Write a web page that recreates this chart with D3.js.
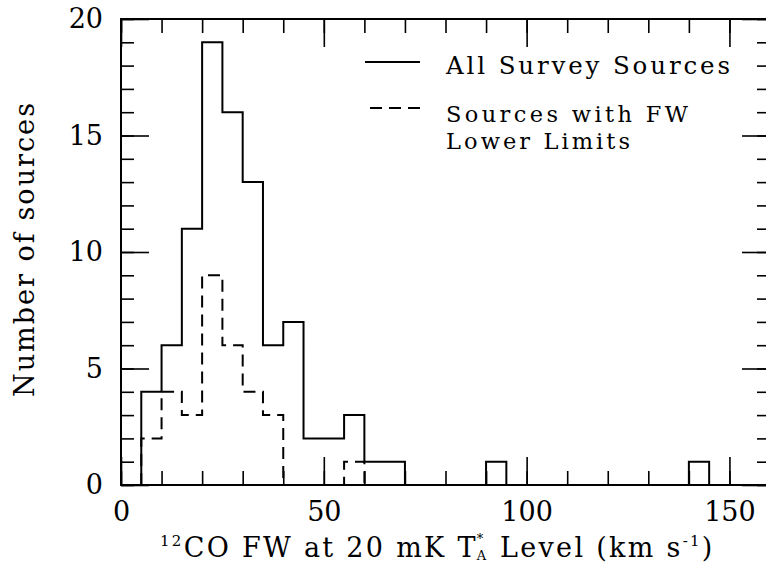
<!DOCTYPE html>
<html>
<head>
<meta charset="utf-8">
<script src="https://cdn.jsdelivr.net/npm/d3@7"></script>
<style>
  html, body { margin: 0; padding: 0; background: #fff; }
  svg { display: block; }
  text { font-family: "DejaVu Serif", serif; fill: #000; }
</style>
</head>
<body>
<svg id="chart" width="766" height="570"></svg>
<script>
// ---- data ----
const binStarts = [5,10,15,20,25,30,35,40,45,50,55,60,65,70,75,80,85,90,95,100,105,110,115,120,125,130,135,140];
const binWidth = 5;
const allSources =  [4,6,11,19,16,13,6,7,2,2,3,1,1,0,0,0,0,1,0,0,0,0,0,0,0,0,0,1];
const lowerLimits = [2,4,3,9,6,4,3,0,0,0,1,0,0,0,0,0,0,0,0,0,0,0,0,0,0,0,0,0];
const xMajorTicks = [0, 50, 100, 150];
const xMinorTicks = d3.range(0, 161, 10);
const yMajorTicks = [0, 5, 10, 15, 20];
const yMinorTicks = d3.range(0, 21, 1);
const legendLabels = ["All Survey Sources", "Sources with FW", "Lower Limits"];

// ---- layout ----
const svg = d3.select("#chart");
const x = d3.scaleLinear().domain([0, 160]).range([121, 770]);
const y = d3.scaleLinear().domain([0, 20]).range([485, 19]);
const fs = 27;

svg.append("rect").attr("width", 766).attr("height", 570).attr("fill", "#fff");

function styleAxis(g) {
  g.select(".domain").remove();
  g.selectAll("line").attr("stroke", "#000").attr("stroke-width", 1.6);
  g.selectAll("text").attr("font-size", fs).attr("font-family", "DejaVu Serif").attr("fill", "#000");
}

// minor ticks
svg.append("g").attr("transform", `translate(0,${y(0)})`)
  .call(d3.axisBottom(x).tickValues(xMinorTicks).tickSizeInner(-14).tickSizeOuter(0).tickFormat(""))
  .call(styleAxis);
svg.append("g").attr("transform", `translate(0,${y(20)})`)
  .call(d3.axisTop(x).tickValues(xMinorTicks).tickSizeInner(-14).tickSizeOuter(0).tickFormat(""))
  .call(styleAxis);
svg.append("g").attr("transform", `translate(${x(0)},0)`)
  .call(d3.axisLeft(y).tickValues(yMinorTicks).tickSizeInner(-13).tickSizeOuter(0).tickFormat(""))
  .call(styleAxis);
svg.append("g").attr("transform", `translate(${x(160)},0)`)
  .call(d3.axisRight(y).tickValues(yMinorTicks).tickSizeInner(-13).tickSizeOuter(0).tickFormat(""))
  .call(styleAxis);

// major ticks with labels
svg.append("g").attr("transform", `translate(0,${y(0)})`)
  .call(d3.axisBottom(x).tickValues(xMajorTicks).tickSizeInner(-28).tickSizeOuter(0).tickPadding(17).tickFormat(d3.format("d")))
  .call(styleAxis);
svg.append("g").attr("transform", `translate(0,${y(20)})`)
  .call(d3.axisTop(x).tickValues(xMajorTicks).tickSizeInner(-28).tickSizeOuter(0).tickFormat(""))
  .call(styleAxis);
svg.append("g").attr("transform", `translate(${x(0)},0)`)
  .call(d3.axisLeft(y).tickValues(yMajorTicks).tickSizeInner(-28).tickSizeOuter(0).tickPadding(18).tickFormat(d3.format("d")))
  .call(styleAxis);
svg.append("g").attr("transform", `translate(${x(160)},0)`)
  .call(d3.axisRight(y).tickValues(yMajorTicks).tickSizeInner(-28).tickSizeOuter(0).tickFormat(""))
  .call(styleAxis);

// frame
svg.append("rect")
  .attr("x", x(0)).attr("y", y(20))
  .attr("width", x(160) - x(0)).attr("height", y(0) - y(20))
  .attr("fill", "none").attr("stroke", "#000").attr("stroke-width", 2);

// histograms as step outlines
function stepPoints(counts) {
  const pts = [[binStarts[0], 0]];
  counts.forEach((c, i) => pts.push([binStarts[i], c]));
  pts.push([binStarts[binStarts.length - 1] + binWidth, 0]);
  return pts;
}
const line = d3.line().x(d => x(d[0])).y(d => y(d[1])).curve(d3.curveStepAfter);

svg.append("path").attr("d", line(stepPoints(allSources)))
  .attr("fill", "none").attr("stroke", "#000").attr("stroke-width", 2);
svg.append("path").attr("d", line(stepPoints(lowerLimits)))
  .attr("fill", "none").attr("stroke", "#000").attr("stroke-width", 2)
  .attr("stroke-dasharray", "12,7");

// legend
svg.append("line").attr("x1", 365).attr("x2", 420).attr("y1", 62).attr("y2", 62)
  .attr("stroke", "#000").attr("stroke-width", 2);
svg.append("line").attr("x1", 370).attr("x2", 420).attr("y1", 108).attr("y2", 108)
  .attr("stroke", "#000").attr("stroke-width", 2).attr("stroke-dasharray", "12,7");
const legendPos = [[446, 74, 284, 24.5], [446, 122, 242, 22.5], [446, 149, 184, 22.5]];
legendLabels.forEach((t, i) => {
  svg.append("text").attr("x", legendPos[i][0]).attr("y", legendPos[i][1])
    .attr("font-size", legendPos[i][3]).attr("textLength", legendPos[i][2]).attr("lengthAdjust", "spacing")
    .text(t);
});

// y axis title
svg.append("text")
  .attr("transform", "translate(34,250) rotate(-90)")
  .attr("text-anchor", "middle").attr("font-size", fs)
  .attr("textLength", 294).attr("lengthAdjust", "spacing")
  .text("Number of sources");

// x axis title, built from pieces
const base = 557, ls = 2.3;
const p1 = svg.append("text").attr("x", 160).attr("y", base).attr("font-size", fs).attr("letter-spacing", ls);
p1.append("tspan").attr("font-size", 15).attr("dy", -11).text("12");
p1.append("tspan").attr("dy", 11).text("CO FW at 20 mK T");
const p1End = 160 + p1.node().getComputedTextLength();
svg.append("text").attr("x", p1End - 1).attr("y", base - 14).attr("font-size", 13).text("*");
const aText = svg.append("text").attr("x", p1End - 1).attr("y", base + 3).attr("font-size", 13).text("A");
const p2x = p1End + aText.node().getComputedTextLength() + 2;
const p2 = svg.append("text").attr("x", p2x).attr("y", base).attr("font-size", fs).attr("letter-spacing", ls);
p2.append("tspan").text("\u00A0Level (km s");
p2.append("tspan").attr("font-size", 15).attr("dy", -11).text("-1");
p2.append("tspan").attr("dy", 11).text(")");
</script>
</body>
</html>
